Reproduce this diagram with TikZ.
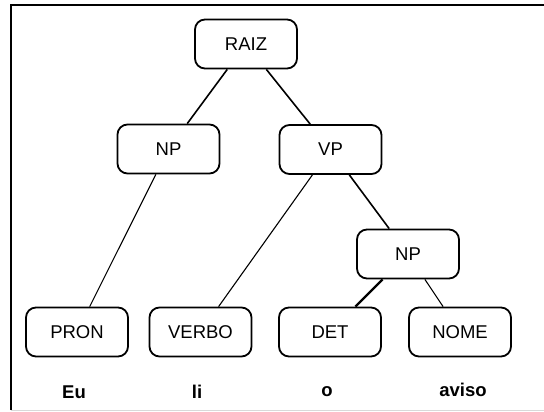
\documentclass[tikz,border=0pt]{standalone}
\usepackage{fontspec}
\setmainfont{Liberation Sans}
\begin{document}
\begin{tikzpicture}[x=1pt,y=-1pt,
  box/.style={draw, line width=1.8pt, rounded corners=10pt, minimum width=102pt, minimum height=49pt, inner sep=0pt, font=\fontsize{18.5}{21}\selectfont},
  word/.style={font=\fontsize{18.5}{21}\selectfont\bfseries, inner sep=0pt},
  thin/.style={line width=1.1pt},
  mid/.style={line width=1.6pt},
  thick/.style={line width=2.3pt}]
\useasboundingbox (0,0) rectangle (544,412);
\fill[white] (0,0) rectangle (544,412);
% frame
\draw[line width=2pt] (11,410) -- (11,5) -- (544,5);
\draw[line width=1.5pt, black!15] (11,410.5) -- (544,410.5);
% nodes
\node[box] (raiz) at (246,44) {RAIZ};
\node[box] (np1) at (168.5,149) {NP};
\node[box] (vp) at (330.5,149.5) {VP};
\node[box] (np2) at (408,254) {NP};
\node[box] (pron) at (77,332) {PRON};
\node[box] (verbo) at (200.5,332) {VERBO};
\node[box] (det) at (330,332) {DET};
\node[box] (nome) at (460,332) {NOME};
\node[word] (eu) at (74,392) {Eu};
\node[word] (li) at (197,392) {li};
\node[word] (o) at (327,392) {o};
\node[word] (aviso) at (463,390) {aviso};
% connectors
\draw[mid] (raiz) -- (np1);
\draw[mid] (raiz) -- (vp);
\draw[thin] (np1) -- (pron);
\draw[thin] (vp) -- (verbo);
\draw[mid] (vp) -- (np2);
\draw[thick] (np2) -- (det);
\draw[thin] (np2) -- (nome);
\end{tikzpicture}
\end{document}
